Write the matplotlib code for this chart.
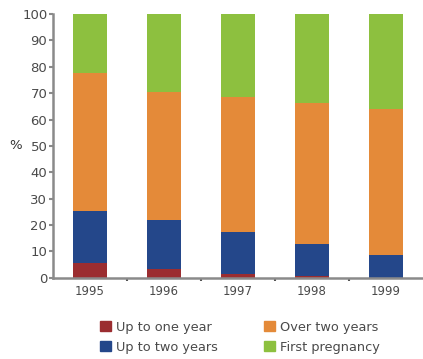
import matplotlib
matplotlib.use("Agg")
import matplotlib.pyplot as plt
from matplotlib.patches import Patch
import numpy as np

years = ["1995", "1996", "1997", "1998", "1999"]
up_to_one = [5.7, 3.5, 1.5, 0.7, 0.0]
up_to_two = [19.7, 18.6, 15.7, 12.0, 8.7]
over_two = [52.1, 48.5, 51.4, 53.6, 55.3]
first_preg = [22.5, 29.4, 31.4, 33.7, 36.0]

series = [
    ("Up to one year", up_to_one, "#9B2D30"),
    ("Up to two years", up_to_two, "#24478A"),
    ("Over two years", over_two, "#E48A39"),
    ("First pregnancy", first_preg, "#8DC03F"),
]

fig = plt.figure(figsize=(4.23, 3.59), dpi=100)
ax = fig.add_axes([0.125, 0.226, 0.875, 0.735])

x = np.arange(len(years))
bottom = np.zeros(len(years))
for name, vals, color in series:
    ax.bar(x, vals, width=0.45, bottom=bottom, color=color, label=name)
    bottom += np.array(vals)

ax.set_xlim(-0.5, len(years) - 0.5)
ax.set_ylim(0, 100)
ax.set_yticks(range(0, 101, 10))
ax.set_xticks(x)
ax.set_xticklabels(years)
ax.set_xticks(np.arange(0.5, len(years) - 0.5, 1), minor=True)

for s in ["top", "right"]:
    ax.spines[s].set_visible(False)
for s in ["left", "bottom"]:
    ax.spines[s].set_color("#8a8a8a")
    ax.spines[s].set_linewidth(1.8)

ax.tick_params(axis="y", colors="#8a8a8a", length=3, width=1.5,
               labelcolor="#4a4a4a", labelsize=9.5, pad=1)
ax.tick_params(axis="x", which="major", length=0, labelcolor="#4a4a4a",
               labelsize=8.5, pad=5)
ax.tick_params(axis="x", which="minor", length=2.5, width=1.5, colors="#555555")

ax.set_ylabel("%", rotation=0, fontsize=9.5, color="#333333", labelpad=5,
              va="center")

handles = [Patch(color=c, label=n) for n, _, c in series]
fig.legend(handles=handles, ncol=2, loc="lower left",
           bbox_to_anchor=(0.21, -0.018), frameon=False, fontsize=9.3,
           handlelength=0.8, handleheight=0.8, handletextpad=0.4,
           columnspacing=3.6, labelspacing=0.55, labelcolor="#4a4a4a")

fig.savefig("out.png", dpi=100)
